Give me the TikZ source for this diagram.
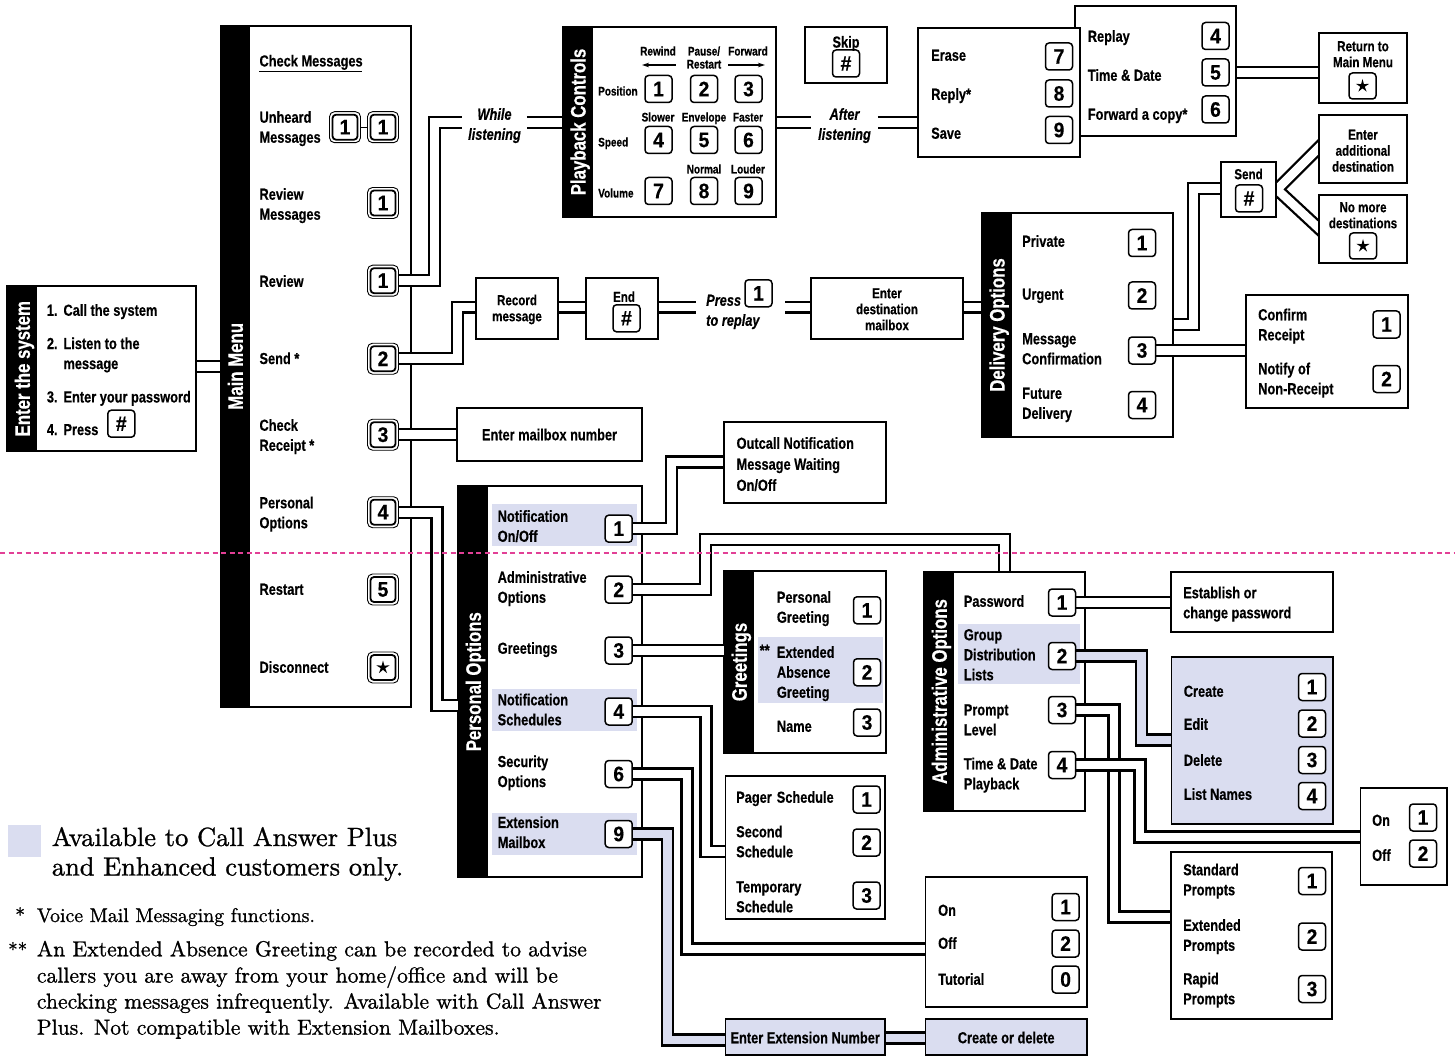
\documentclass[tikz,border=0pt]{standalone}
\usepackage{fontspec}
\newfontfamily\cnd[FakeStretch=0.8,FakeBold=0.4]{Liberation Sans}
\newfontfamily\kfn[FakeStretch=0.92,FakeBold=0.3]{Liberation Sans}
\newfontfamily\ser[FakeBold=1.0]{lmroman10-regular.otf}
\usetikzlibrary{shapes.geometric,arrows.meta}
\definecolor{lav}{RGB}{218,221,240}
\definecolor{pinkc}{RGB}{226,64,150}
\newcommand\strx{\rule[-0.21em]{0pt}{0.94em}}
\newcommand\brx{\strx\\\strx}
\newcommand\Bx[6][]{\node[box,anchor=north west,minimum width={#5-#3},minimum height={#6-#4},#1] (#2) at (#3,#4) {};}
\pgfdeclarelayer{bxl}\pgfdeclarelayer{ppl}\pgfdeclarelayer{fgl}
\pgfsetlayers{bxl,ppl,main,fgl}
\begin{document}
\begin{tikzpicture}[x=1pt,y=-1pt,line join=miter,
 box/.style={draw,line width=1.7pt,fill=white,inner sep=0pt,outer sep=0pt},
 lbl/.style={font=\cnd\bfseries\fontsize{16}{20}\selectfont,inner sep=0pt,anchor=west,align=left,yshift=-1.6pt,execute at begin node=\strx,execute at end node=\strx},
 ctr/.style={font=\cnd\bfseries\fontsize{14.5}{16}\selectfont,inner sep=0pt,align=center,yshift=-1.45pt,execute at begin node=\strx,execute at end node=\strx},
 sm/.style={font=\cnd\bfseries\fontsize{12.5}{13}\selectfont,inner sep=0pt,align=center,yshift=-1.25pt,execute at begin node=\strx,execute at end node=\strx},
 ital/.style={font=\cnd\bfseries\itshape\fontsize{16}{20}\selectfont,inner sep=0pt,align=center,yshift=-1.6pt,execute at begin node=\strx,execute at end node=\strx},
 head/.style={font=\cnd\bfseries\fontsize{21}{22}\selectfont,text=white,rotate=90,inner sep=0pt,execute at begin node=\strx},
 key/.style={draw,line width=1.5pt,rounded corners=3.5pt,fill=white,minimum width=27pt,minimum height=27pt,inner sep=0pt,outer sep=0pt,font=\kfn\bfseries\fontsize{21}{21}\selectfont},
 mko/.style={draw,line width=0.9pt,rounded corners=5pt,fill=white,minimum width=31pt,minimum height=31pt,inner sep=0pt,outer sep=0pt},
 mki/.style={key,line width=1.8pt,minimum width=25pt,minimum height=25pt},
 pipe/.style={draw=black,double=white,line width=2.3pt,double distance=8.6pt,shorten <=0.8pt,shorten >=0.8pt},
 lpipe/.style={pipe,double=lav},
 starsym/.style={star,star points=5,star point ratio=3,fill=black,inner sep=0pt,minimum size=14pt},
 fnA/.style={font=\ser\fontsize{26.4}{30}\selectfont,inner sep=0pt,anchor=base west},
 fnB/.style={font=\ser\fontsize{21.7}{26}\selectfont,inner sep=0pt,anchor=base west}]
\useasboundingbox (0,0) rectangle (1455,1056);
\begin{pgfonlayer}{bxl}
\fill[white] (0,0) rectangle (1455,1056);
% fork from Send
\draw[line width=13.2pt] (1269.9,196.6) -- (1326.1,140.4) (1269.7,182.7) -- (1326.3,235.3);
\draw[white,line width=8.6pt] (1269.9,196.6) -- (1326.1,140.4) (1269.7,182.7) -- (1326.3,235.3);
% boxes
\Bx{ent}{7.3}{286}{196}{451}
\fill (7.3,286) rectangle (37.3,451);
\Bx{mm}{220.7}{25.7}{410.7}{707}
\fill (220.7,25.7) rectangle (250,707);
\Bx{pb}{563}{27}{776}{217}
\fill (563,27) rectangle (593,217);
\Bx{sk}{805}{27}{887}{83}
\Bx{rp}{1075}{6}{1236}{136}
\Bx{er}{918}{28}{1080}{157}
\Bx{ret}{1319}{33}{1407}{103}
\Bx{ead}{1319}{115}{1407}{183}
\Bx{nm}{1319}{195}{1407}{263}
\Bx{sd}{1221}{162}{1276}{217}
\Bx{rec}{476}{278}{558}{339}
\Bx{end}{586}{278}{658}{339}
\Bx{dst}{811}{278}{963}{339}
\Bx{emb}{457}{408.3}{642}{460.7}
\Bx{dlv}{982}{213}{1173}{437}
\fill (982,213) rectangle (1012,437);
\Bx{cfm}{1246}{295}{1408}{408}
\Bx{oc}{724}{422}{886}{503}
\Bx{po}{458.3}{486}{642.3}{877.3}
\fill (458.3,486) rectangle (488.3,877.3);
\fill[lav] (491.7,504) rectangle (636.7,545.7);
\fill[lav] (491.7,689.3) rectangle (636.7,730.7);
\fill[lav] (491.7,813.3) rectangle (636.7,855);
\Bx{gr}{724.3}{571}{885.7}{752.7}
\fill (724.3,571) rectangle (754,752.7);
\fill[lav] (758.3,637.3) rectangle (883.3,703.3);
\Bx{pg}{725.4}{776}{885}{919}
\Bx{oot}{925.5}{877}{1087}{1007}
\Bx[fill=lav]{eex}{725.4}{1019}{885}{1055}
\Bx[fill=lav]{cod}{925.5}{1019}{1087}{1055}
\Bx{adm}{924}{572}{1085}{811}
\fill (924,572) rectangle (954.4,811);
\fill[lav] (958,624) rectangle (1080,684);
\Bx{est}{1171}{572}{1333}{632}
\Bx[fill=lav]{crt}{1171.5}{657}{1333}{824}
\Bx{oo}{1360.6}{788}{1447}{885}
\Bx{std}{1171}{852}{1332}{1019}
\fill[lav] (8.3,825) rectangle (41,856.7);
\end{pgfonlayer}

% ---------- keys ----------
\node[key] (entK) at (121.3,423.7) {\#};
\node[mko] (mmK1ao) at (345,127.2) {}; \node[mki] (mmK1a) at (345,127.2) {1};
\node[mko] (mmK1bo) at (383,127.2) {}; \node[mki] (mmK1b) at (383,127.2) {1};
\draw[line width=1.2pt] (mmK1ao.east) -- (mmK1bo.west);
\node[mko] (mmK2o) at (383,203) {}; \node[mki] (mmK2) at (383,203) {1};
\node[mko] (mmK3o) at (383,280.7) {}; \node[mki] (mmK3) at (383,280.7) {1};
\node[mko] (mmK4o) at (383,358.7) {}; \node[mki] (mmK4) at (383,358.7) {2};
\node[mko] (mmK5o) at (383,434.7) {}; \node[mki] (mmK5) at (383,434.7) {3};
\node[mko] (mmK6o) at (383,512.2) {}; \node[mki] (mmK6) at (383,512.2) {4};
\node[mko] (mmK7o) at (383,589.5) {}; \node[mki] (mmK7) at (383,589.5) {5};
\node[mko] (mmK8o) at (383,667.5) {}; \node[mki] (mmK8) at (383,667.5) {};
\node[starsym] (mmK8s) at (mmK8) {};
\foreach \n/\c/\r/\t in {1/658.5/89/1,2/704/89/2,3/748.5/89/3,4/658.5/140/4,5/704/140/5,6/748.5/140/6,7/658.5/191/7,8/704/191/8,9/748.5/191/9}
  \node[key] (pbK\n) at (\c,\r) {\t};
\node[key] (skK) at (846,63.5) {\#};
\node[key] (erK7) at (1059,56.5) {7};
\node[key] (erK8) at (1059,93.5) {8};
\node[key] (erK9) at (1059,130) {9};
\node[key] (rpK4) at (1215.5,36) {4};
\node[key] (rpK5) at (1215.5,72.5) {5};
\node[key] (rpK6) at (1215.5,109.5) {6};
\node[key,minimum height=26pt] (retK) at (1362.5,86) {}; \node[starsym] (retS) at (retK) {};
\node[key,minimum height=26pt] (nmK) at (1363,246) {}; \node[starsym] (nmS) at (nmK) {};
\node[key] (sdK) at (1249,198.5) {\#};
\node[key] (endK) at (626.5,318.3) {\#};
\node[key] (prK) at (758.5,293.3) {1};
\node[key] (dlvK1) at (1142,243) {1};
\node[key] (dlvK2) at (1142,295.5) {2};
\node[key] (dlvK3) at (1142,350.5) {3};
\node[key] (dlvK4) at (1142,405) {4};
\node[key] (cfmK1) at (1386.5,324.5) {1};
\node[key] (cfmK2) at (1386.5,379) {2};
\node[key] (poK1) at (618.7,528.7) {1};
\node[key] (poK2) at (618.7,589.7) {2};
\node[key] (poK3) at (618.7,650.5) {3};
\node[key] (poK4) at (618.7,711.5) {4};
\node[key] (poK6) at (618.7,774) {6};
\node[key] (poK9) at (618.7,834) {9};
\node[key] (grK1) at (867,610.3) {1};
\node[key] (grK2) at (867,672.3) {2};
\node[key] (grK3) at (867,722.5) {3};
\node[key] (pgK1) at (866.6,799.5) {1};
\node[key] (pgK2) at (866.6,842.5) {2};
\node[key] (pgK3) at (866.6,895.5) {3};
\node[key] (ootK1) at (1065.6,907) {1};
\node[key] (ootK2) at (1065.6,943.5) {2};
\node[key] (ootK0) at (1065.6,979.5) {0};
\node[key] (admK1) at (1062,602.5) {1};
\node[key] (admK2) at (1062,656) {2};
\node[key] (admK3) at (1062,710) {3};
\node[key] (admK4) at (1062,765) {4};
\node[key] (crtK1) at (1312,687) {1};
\node[key] (crtK2) at (1312,723.5) {2};
\node[key] (crtK3) at (1312,760) {3};
\node[key] (crtK4) at (1312,796) {4};
\node[key] (ooK1) at (1423,817.5) {1};
\node[key] (ooK2) at (1423,853.5) {2};
\node[key] (stdK1) at (1312,881) {1};
\node[key] (stdK2) at (1312,936.5) {2};
\node[key] (stdK3) at (1312,989) {3};

% ---------- pipes ----------
\begin{pgfonlayer}{ppl}
\draw[pipe] (ent.east |- 0,366.3) -- (mm.west |- 0,366.3);
\draw[pipe] (mmK3) -| (434.2,122.5) -- (463,122.5);
\draw[pipe] (526,122.5) -- (pb.west |- 0,122.5);
\draw[pipe] (pb.east |- 0,122.5) -- (812,122.5);
\draw[pipe] (877,122.5) -- (er.west |- 0,122.5);
\draw[pipe] (mmK4) -| (457.2,307.2) -- (rec.west |- 0,307.2);
\draw[pipe] (mmK5) -- (emb.west |- mmK5);
\draw[pipe] (mmK6) -| (436.9,705.5) -- (po.west |- 0,705.5);
\draw[pipe] (rec.east |- 0,307.2) -- (end.west |- 0,307.2);
\draw[pipe] (end.east |- 0,307.2) -- (697,307.2);
\draw[pipe] (784.6,307.2) -- (dst.west |- 0,307.2);
\draw[pipe] (dst.east |- 0,307.2) -- (dlv.west |- 0,307.2);
\draw[pipe] (rp.east |- 0,72.5) -- (ret.west |- 0,72.5);
\draw[pipe] (dlv.east |- 0,324.5) -| (1193.5,188.5) -- (sd.west |- 0,188.5);
\draw[pipe] (dlvK3) -- (cfm.west |- dlvK3);
\draw[pipe] (poK1) -| (671.2,462) -- (oc.west |- 0,462);
\draw[pipe] (poK2) -| (705.5,539.5) -| (adm.north -| 1004.5,0);
\draw[pipe] (poK3) -- (gr.west |- poK3);
\draw[pipe] (poK4) -| (706,851.5) -- (pg.west |- 0,851.5);
\draw[pipe] (poK6) -| (687,949) -- (oot.west |- 0,949);
\draw[lpipe] (poK9) -| (667.6,1040) -- (eex.west |- 0,1040);
\draw[lpipe] (eex.east |- 0,1038) -- (cod.west |- 0,1038);
\draw[pipe] (admK1) -- (est.west |- admK1);
\draw[lpipe] (admK2) -| (1141.5,740) -- (crt.west |- 0,740);
\draw[pipe] (admK3) -| (1114,917) -- (std.west |- 0,917);
\draw[pipe] (admK4) -| (1140,837) -- (oo.west |- 0,837);
\end{pgfonlayer}

% ---------- texts ----------
\node[head] (entH) at (24.4,368.7) {Enter the system};
\node[lbl] (ent1n) at (46.7,310) {1.};
\node[lbl] (ent1) at (63.3,310) {Call the system};
\node[lbl] (ent2n) at (46.7,343.3) {2.};
\node[lbl] (ent2) at (63.3,353.3) {Listen to the\brx message};
\node[lbl] (ent3n) at (46.7,396.7) {3.};
\node[lbl] (ent3) at (63.3,396.7) {Enter your password};
\node[lbl] (ent4n) at (46.7,429.3) {4.};
\node[lbl] (ent4) at (63.3,429.3) {Press};

\node[head] (mmH) at (237.4,366.3) {Main Menu};
\node[lbl] (mmL0) at (259.3,60.7) {Check Messages};
\draw[line width=1.2pt] (259.3,71.3) -- (361.7,71.3);
\node[lbl] (mmL1) at (259.3,127) {Unheard\brx Messages};
\node[lbl] (mmL2) at (259.3,204) {Review\brx Messages};
\node[lbl] (mmL3) at (259.3,281) {Review};
\node[lbl] (mmL4) at (259.3,358.3) {Send *};
\node[lbl] (mmL5) at (259.3,435) {Check\brx Receipt *};
\node[lbl] (mmL6) at (259.3,512.5) {Personal\brx Options};
\node[lbl] (mmL7) at (259.3,589) {Restart};
\node[lbl] (mmL8) at (259.3,667) {Disconnect};

\node[head] (pbH) at (580.1,122) {Playback Controls};
\node[sm] (pbRw) at (658,51) {Rewind};
\node[sm] (pbPa) at (704,57.5) {Pause/\brx Restart};
\node[sm] (pbFw) at (748,51) {Forward};
\draw[line width=1.1pt,-{Stealth[length=7pt,width=4.5pt]}] (pbRw.south east |- 0,65) -- (642,65);
\draw[line width=1.1pt,-{Stealth[length=7pt,width=4.5pt]}] (pbFw.south west |- 0,65) -- (765,65);
\node[sm,anchor=west] (pbPo) at (598,91) {Position};
\node[sm,anchor=west] (pbSp) at (598,142) {Speed};
\node[sm,anchor=west] (pbVo) at (598,193) {Volume};
\node[sm] (pbSl) at (658,117) {Slower};
\node[sm] (pbEn) at (704,117) {Envelope};
\node[sm] (pbFa) at (748,117) {Faster};
\node[sm] (pbNo) at (704,169) {Normal};
\node[sm] (pbLo) at (748,169) {Louder};
\node[ital] (wl) at (494.5,124) {While\brx listening};
\node[ital] (al) at (844.5,124) {After\brx listening};
\node[ctr,font=\cnd\bfseries\fontsize{16}{18}\selectfont] (skL) at (846,42) {Skip};

\node[lbl] (erL7) at (931,55) {Erase};
\node[lbl] (erL8) at (931,94) {Reply*};
\node[lbl] (erL9) at (931,133) {Save};
\node[lbl] (rpL4) at (1087.6,36) {Replay};
\node[lbl] (rpL5) at (1087.6,75) {Time \& Date};
\node[lbl] (rpL6) at (1087.6,114) {Forward a copy*};
\node[ctr] (retL) at (1363,54) {Return to\brx Main Menu};
\node[ctr] (eadL) at (1363,150.5) {Enter\brx additional\brx destination};
\node[ctr] (nmL) at (1363,215) {No more\brx destinations};
\node[ctr] (sdL) at (1248.5,174) {Send};

\node[ctr] (recL) at (517,308) {Record\brx message};
\node[ctr] (endL) at (624,296.7) {End};
\node[ital,anchor=west] (prsL) at (706,300) {Press};
\node[ital,anchor=west] (trpL) at (706,320) {to replay};
\node[ctr] (dstL) at (887,309) {Enter\brx destination\brx mailbox};
\node[lbl,anchor=center] (embL) at (549.5,434.5) {Enter mailbox number};

\node[head] (dlvH) at (999.1,325) {Delivery Options};
\node[lbl] (dlvL1) at (1022,241) {Private};
\node[lbl] (dlvL2) at (1022,294) {Urgent};
\node[lbl] (dlvL3) at (1022,348.5) {Message\brx Confirmation};
\node[lbl] (dlvL4) at (1022,403) {Future\brx Delivery};
\node[lbl] (cfmL1) at (1258,324.5) {Confirm\brx Receipt};
\node[lbl] (cfmL2) at (1258,378.5) {Notify of\brx Non-Receipt};
\node[lbl,font=\cnd\bfseries\fontsize{16}{21}\selectfont] (ocL) at (736.4,464) {Outcall Notification\brx Message Waiting\brx On/Off};

\node[head] (poH) at (475.4,681.7) {Personal Options};
\node[lbl] (poL1) at (497.5,526) {Notification\brx On/Off};
\node[lbl] (poL2) at (497.5,587) {Administrative\brx Options};
\node[lbl] (poL3) at (497.5,648) {Greetings};
\node[lbl] (poL4) at (497.5,709.5) {Notification\brx Schedules};
\node[lbl] (poL6) at (497.5,771.3) {Security\brx Options};
\node[lbl] (poL9) at (497.5,832.2) {Extension\brx Mailbox};

\node[head] (grH) at (741.3,662) {Greetings};
\node[lbl] (grL1) at (776.7,607) {Personal\brx Greeting};
\node[lbl] (grSt) at (759.5,650) {**};
\node[lbl] (grL2) at (776.7,672) {Extended\brx Absence\brx Greeting};
\node[lbl] (grL3) at (776.7,726) {Name};

\node[lbl] (pgL1) at (736,797) {Pager\hspace{5pt}Schedule};
\node[lbl] (pgL2) at (736,841.5) {Second\brx Schedule};
\node[lbl] (pgL3) at (736,896.5) {Temporary\brx Schedule};
\node[lbl] (ootL1) at (938,910) {On};
\node[lbl] (ootL2) at (938,943) {Off};
\node[lbl] (ootL0) at (938,979) {Tutorial};
\node[lbl,anchor=center] (eexL) at (805.2,1037.5) {Enter Extension Number};
\node[lbl,anchor=center] (codL) at (1006.2,1037.5) {Create or delete};

\node[head] (admH) at (941.3,691.5) {Administrative Options};
\node[lbl] (admL1) at (963.6,601) {Password};
\node[lbl] (admL2) at (963.6,654.5) {Group\brx Distribution\brx Lists};
\node[lbl] (admL3) at (963.6,719.5) {Prompt\brx Level};
\node[lbl] (admL4) at (963.6,773.5) {Time \& Date\brx Playback};
\node[lbl] (estL) at (1183,602.5) {Establish or\brx change password};
\node[lbl] (crtL1) at (1183.6,691) {Create};
\node[lbl] (crtL2) at (1183.6,724) {Edit};
\node[lbl] (crtL3) at (1183.6,760) {Delete};
\node[lbl] (crtL4) at (1183.6,794) {List Names};
\node[lbl] (ooL1) at (1372,820) {On};
\node[lbl] (ooL2) at (1372,855) {Off};
\node[lbl] (stdL1) at (1183,879.5) {Standard\brx Prompts};
\node[lbl] (stdL2) at (1183,935) {Extended\brx Prompts};
\node[lbl] (stdL3) at (1183,988.5) {Rapid\brx Prompts};

% ---------- footnotes ----------
\node[fnA] (ft1) at (51.7,846) {Available to Call Answer Plus};
\node[fnA] (ft2) at (51.7,875.5) {and Enhanced customers only.};
\node[fnB,font=\ser\fontsize{19.8}{26}\selectfont] (ft3s) at (15,922) {*};
\node[fnB,font=\ser\fontsize{19.8}{26}\selectfont] (ft3) at (36.7,922) {Voice Mail Messaging functions.};
\node[fnB,font=\ser\fontsize{19}{26}\selectfont] (ft4s) at (8,956.3) {**};
\node[fnB] (ft4a) at (36.7,956.3) {An Extended Absence Greeting can be recorded to advise};
\node[fnB] (ft4b) at (36.7,982.6) {callers you are away from your home/office and will be};
\node[fnB] (ft4c) at (36.7,1008.6) {checking messages infrequently. Available with Call Answer};
\node[fnB] (ft4d) at (36.7,1034.6) {Plus. Not compatible with Extension Mailboxes.};

\begin{pgfonlayer}{fgl}
\draw[pinkc,line width=1.4pt,dash pattern=on 5pt off 3.5pt] (0,553) -- (1455,553);
\end{pgfonlayer}
\end{tikzpicture}
\end{document}
